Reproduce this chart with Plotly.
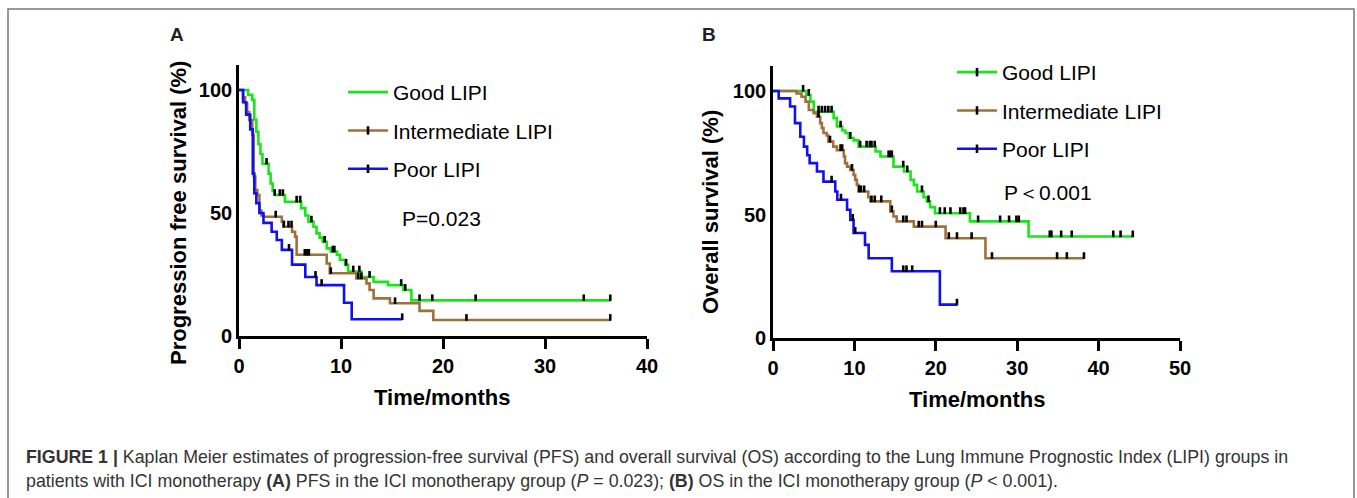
import numpy as np
import plotly.graph_objects as go

W, H = 1357, 498
FONT = "Liberation Sans"

# ---------------- Panel A: PFS ----------------
groups = ["Good LIPI", "Intermediate LIPI", "Poor LIPI"]
colors = ["#19E619", "#A0703C", "#1010F0"]

a_good_t = [0, 0.9, 1.3, 1.5, 1.7, 1.9, 2.1, 2.3, 2.9, 3.1, 3.3, 3.5, 4.5, 6.1, 6.5, 6.8, 7.3, 7.6,
            7.9, 8.2, 8.6, 9.0, 9.6, 9.9, 10.4, 10.7, 12.0, 13.2, 14.6, 16.1, 16.9]
a_good_s = [100, 98, 96, 88, 83, 78, 74, 70, 66, 62, 59, 57.3, 54.6, 52, 49, 46.5, 44.4, 41.7,
            40, 38.3, 35.6, 34.3, 33, 31, 28.9, 26.2, 24, 22, 20.7, 18.7, 14.5]
a_good_c = [2.7, 3.5, 4.0, 4.3, 5.65, 6.0, 7.1, 8.4, 9.2, 9.35, 10.5, 11.2, 11.8, 12.8, 15.9,
            16.3, 17.7, 18.95, 23.2, 33.8, 36.4]

a_int_t = [0, 0.4, 0.6, 0.8, 1.0, 1.3, 1.45, 1.6, 1.8, 2.0, 2.2, 2.4, 4.2, 4.35, 5.2, 5.5, 5.65,
           8.6, 8.9, 11.5, 12.5, 12.8, 13.2, 14.8, 17.7, 19.05]
a_int_s = [100, 97, 94.6, 91, 87.8, 81.7, 64.8, 59.3, 57.3, 51, 49, 48.5, 46.5, 44.4, 42.4, 40.4,
           33, 29.5, 25.5, 23.4, 21.4, 18.7, 15.3, 13.3, 10.2, 6.5]
a_int_c = [3.6, 4.4, 4.85, 5.15, 6.45, 6.65, 6.85, 9.0, 11.7, 12.0, 15.3, 22.3, 36.4]

a_poor_t = [0, 0.4, 0.7, 1.1, 1.35, 1.5, 1.7, 2.0, 2.4, 3.2, 3.7, 4.2, 5.2, 6.5, 7.6, 10.3, 11.05]
a_poor_s = [100, 95, 90, 84, 66, 58, 54, 50, 46, 42.4, 39, 35, 29, 24, 20.7, 13.5, 6.8]
a_poor_c = [4.9, 7.5, 8.1, 16.0]

# ---------------- Panel B: OS ----------------
b_good_t = [0, 4.1, 4.6, 5.0, 7.45, 7.85, 8.5, 8.9, 9.3, 9.9, 10.5, 12.6, 13.2, 14.8, 16.1, 16.9,
            17.3, 17.7, 18.5, 18.9, 19.3, 19.9, 24.2, 31.4]
b_good_s = [100, 98.4, 95.7, 91.6, 89, 85.6, 84, 83, 81, 80, 77.5, 75.5, 73.5, 69.4, 67.4, 64,
            62, 59.3, 57, 55.3, 53, 50.5, 47.2, 41.1]
b_good_c = [3.7, 4.4, 5.6, 6.0, 6.4, 6.8, 7.2, 8.3, 9.5, 10.7, 11.5, 11.9, 12.1, 12.5, 14.2, 14.4,
            14.6, 16.0, 16.5, 18.3, 19.1, 20.5, 21.1, 21.8, 23.0, 23.4, 23.6, 25.2, 27.9, 29.0,
            29.9, 30.2, 34.0, 34.2, 35.4, 36.7, 41.8, 42.7, 44.2]

b_int_t = [0, 2.9, 3.5, 4.0, 4.4, 5.0, 5.4, 5.8, 6.0, 6.2, 6.6, 6.8, 7.4, 7.85, 8.7, 8.85, 9.1,
           9.5, 9.9, 10.1, 10.3, 10.5, 11.7, 11.95, 14.4, 14.8, 15.2, 17.3, 21.2, 26.1]
b_int_s = [100, 99, 97.7, 95.7, 92.3, 91, 89.6, 87, 85, 83, 82, 79.5, 77.5, 76, 73.5, 70.8, 69.4,
           68, 66, 64, 62, 59.3, 57, 55.3, 51.2, 49.2, 47.2, 45.1, 40.4, 32.3]
b_int_c = [5.6, 7.0, 8.3, 8.5, 9.7, 10.6, 10.8, 11.2, 12.1, 12.5, 13.3, 14.6, 16.0, 16.4, 17.9,
           18.3, 20.0, 21.6, 22.6, 24.4, 26.9, 34.9, 36.1, 38.2]

b_poor_t = [0, 0.7, 2.1, 2.7, 3.35, 3.8, 4.2, 4.5, 5.4, 6.2, 7.65, 7.9, 9.1, 9.5, 9.9, 11.3, 11.75,
            14.6, 20.5]
b_poor_s = [100, 97, 93.7, 87, 81.5, 77.5, 74, 70.8, 67.4, 63.3, 59.3, 56, 51.9, 47.8, 42.5, 37.7,
            32.3, 27, 13.5]
b_poor_c = [7.2, 8.35, 9.8, 10.1, 16.0, 16.4, 17.1, 22.6]

x_ticks_a = [0, 10, 20, 30, 40]
x_ticks_b = [0, 10, 20, 30, 40, 50]
y_ticks = [0, 50, 100]

panel_a = [(a_good_t, a_good_s, a_good_c), (a_int_t, a_int_s, a_int_c), (a_poor_t, a_poor_s, a_poor_c)]
panel_b = [(b_good_t, b_good_s, b_good_c), (b_int_t, b_int_s, b_int_c), (b_poor_t, b_poor_s, b_poor_c)]
legend_ticks_a = [False, True, True]
legend_ticks_b = [True, True, True]


def px(x):
    return x / W


def py(y):
    return 1 - y / H


fig = go.Figure()


def add_panel(panel, xa, ya, legend_name, legend_ticks, prefix):
    for (t, s, c), name, col, lt in zip(panel, groups, colors, legend_ticks):
        t = np.asarray(t, float)
        s = np.asarray(s, float)
        c = np.asarray(c, float)
        end = max(c.max(), t.max())
        xs = np.append(t, end)
        ys = np.append(s, s[-1])
        fig.add_trace(go.Scatter(x=xs, y=ys, mode="lines", line=dict(color=col, width=2.6, shape="hv"),
                                 xaxis=xa, yaxis=ya, showlegend=False, hoverinfo="skip"))
        idx = np.searchsorted(t, c, side="right") - 1
        # censor marks: short vertical ticks sitting on the curve
        fig.add_trace(go.Scatter(x=c, y=s[idx], mode="markers", xaxis=xa, yaxis=ya, showlegend=False,
                                 marker=dict(size=0.1, color="rgba(0,0,0,0)"),
                                 error_y=dict(type="constant", value=2.4, valueminus=0.3,
                                              symmetric=False, color="black", thickness=2.6, width=0),
                                 hoverinfo="skip"))
        # legend proxy entry
        fig.add_trace(go.Scatter(x=[None], y=[None], mode="lines+markers" if lt else "lines",
                                 name=name, legend=legend_name, legendgroup=prefix + name,
                                 line=dict(color=col, width=2.6),
                                 marker=dict(symbol="line-ns", size=6, color="black",
                                             line=dict(color="black", width=2.6)),
                                 xaxis=xa, yaxis=ya, showlegend=True))


add_panel(panel_a, "x", "y", "legend", legend_ticks_a, "a")
add_panel(panel_b, "x2", "y2", "legend2", legend_ticks_b, "b")

tickfont = dict(family=FONT, size=20, color="black", weight="bold")
xcommon = dict(showline=True, linecolor="black", linewidth=2.6, ticks="outside", ticklen=10,
               tickwidth=2.6, tickcolor="black", showgrid=False, zeroline=False, tickfont=tickfont,
               fixedrange=True, automargin=False)
ycommon = dict(showline=True, linecolor="black", linewidth=2.6, ticks="", showgrid=False,
               zeroline=False, tickfont=tickfont, range=[0, 110], tickvals=y_ticks, fixedrange=True,
               automargin=False)

legend_font = dict(family=FONT, size=21, color="black")
fig.update_layout(
    width=W, height=H, margin=dict(l=0, r=0, t=0, b=0, autoexpand=False),
    paper_bgcolor="white", plot_bgcolor="white",
    xaxis=dict(domain=[px(239), px(647)], range=[0, 40], tickvals=x_ticks_a, anchor="y", **xcommon),
    yaxis=dict(domain=[py(336), py(65.4)], anchor="x", **ycommon),
    xaxis2=dict(domain=[px(773), px(1180)], range=[0, 50], tickvals=x_ticks_b, anchor="y2", **xcommon),
    yaxis2=dict(domain=[py(338), py(66.3)], anchor="x2", **ycommon),
    legend=dict(x=px(343), y=py(72), xanchor="left", yanchor="top", bgcolor="rgba(0,0,0,0)",
                font=legend_font, tracegroupgap=8, itemclick=False, itemwidth=40),
    legend2=dict(x=px(952), y=py(52), xanchor="left", yanchor="top", bgcolor="rgba(0,0,0,0)",
                 font=legend_font, tracegroupgap=8, itemclick=False, itemwidth=40),
    showlegend=True,
)

title_font = dict(family=FONT, size=22, color="black", weight="bold")
ann = []
ann.append(dict(text="Time/months", x=px(443), y=py(397), xref="paper", yref="paper",
                showarrow=False, font=title_font, xanchor="center", yanchor="middle"))
ann.append(dict(text="Time/months", x=px(977), y=py(399), xref="paper", yref="paper",
                showarrow=False, font=title_font, xanchor="center", yanchor="middle"))
ann.append(dict(text="Progression free survival (%)", x=px(178), y=py(213), xref="paper",
                yref="paper", showarrow=False, font=title_font, textangle=-90,
                xanchor="center", yanchor="middle"))
ann.append(dict(text="Overall survival (%)", x=px(711), y=py(212), xref="paper",
                yref="paper", showarrow=False, font=title_font, textangle=-90,
                xanchor="center", yanchor="middle"))
ann.append(dict(text="A", x=px(177), y=py(35), xref="paper", yref="paper", showarrow=False,
                font=dict(family=FONT, size=19, color="#222", weight="bold"),
                xanchor="center", yanchor="middle"))
ann.append(dict(text="B", x=px(709), y=py(35), xref="paper", yref="paper", showarrow=False,
                font=dict(family=FONT, size=19, color="#222", weight="bold"),
                xanchor="center", yanchor="middle"))
ann.append(dict(text="P=0.023", x=px(400), y=py(218), xref="paper", yref="paper", showarrow=False,
                font=dict(family=FONT, size=21, color="black"), xanchor="left", yanchor="middle"))
ann.append(dict(text="P＜0.001", x=px(1002), y=py(192), xref="paper", yref="paper", showarrow=False,
                font=dict(family=FONT, size=21, color="black"), xanchor="left", yanchor="middle"))
cap_font = dict(family=FONT, size=17.8, color="#333")
ann.append(dict(text="<b>FIGURE 1 |</b> Kaplan Meier estimates of progression-free survival (PFS) and "
                     "overall survival (OS) according to the Lung Immune Prognostic Index (LIPI) groups in",
                x=px(24), y=py(456.5), xref="paper", yref="paper", showarrow=False, font=cap_font,
                xanchor="left", yanchor="middle"))
ann.append(dict(text="patients with ICI monotherapy <b>(A)</b> PFS in the ICI monotherapy group "
                     "(<i>P</i> = 0.023); <b>(B)</b> OS in the ICI monotherapy group (<i>P</i> &lt; 0.001).",
                x=px(24), y=py(481), xref="paper", yref="paper", showarrow=False, font=cap_font,
                xanchor="left", yanchor="middle"))
fig.update_layout(annotations=ann)

fig.add_shape(type="rect", xref="paper", yref="paper", x0=px(8), y0=-0.006, x1=px(1354), y1=py(9),
              line=dict(color="#777", width=1.5), fillcolor="rgba(0,0,0,0)", layer="below")

fig.write_html("out.html", config={"displayModeBar": False},
               post_script="document.body.style.margin='0px';")
